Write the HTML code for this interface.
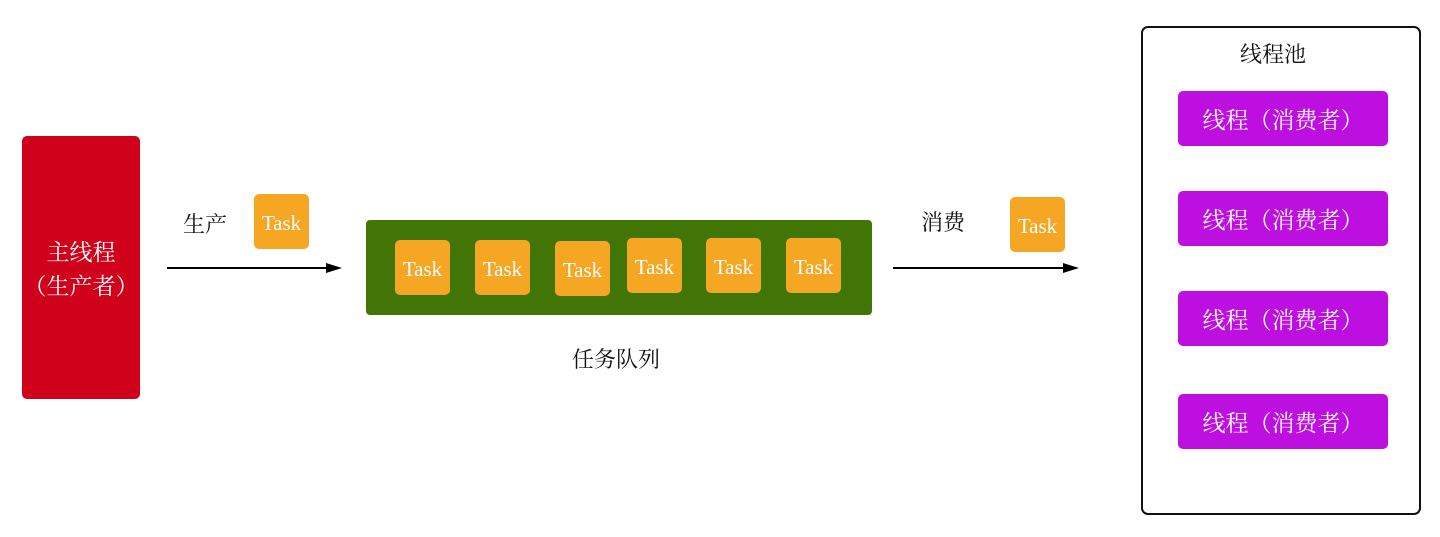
<!DOCTYPE html>
<html><head><meta charset="utf-8"><style>
body{margin:0;width:1440px;height:537px;background:#fff;position:relative;overflow:hidden;font-family:"Liberation Serif","Noto Serif CJK SC",serif}
div{position:absolute;box-sizing:border-box}
.t{background:#F5A623;border-radius:5px;width:55px;height:55px;color:#fff;font-family:"Liberation Serif",serif;font-size:21px;display:flex;align-items:center;justify-content:center;padding-top:4px}
.p{background:#BD10E0;border-radius:5px;left:1178px;width:210px;height:55px;color:#fff;font-size:23px;display:flex;align-items:center;justify-content:center;font-family:"Noto Serif CJK SC",serif}
.l{font-size:22px;color:#111;font-family:"Noto Serif CJK SC",serif;white-space:nowrap}
</style></head><body>
<div style="left:22px;top:136px;width:118px;height:263px;background:#D0021B;border-radius:5px;color:#fff;font-size:23px;font-family:'Noto Serif CJK SC',serif;display:flex;flex-direction:column;align-items:center;justify-content:center;line-height:34px"><span>主线程</span><span>（生产者）</span></div>
<div class="l" style="left:183px;top:208px">生产</div>
<div class="t" style="left:254px;top:194px">Task</div>
<svg style="position:absolute;left:0;top:0" width="1440" height="537">
<line x1="167" y1="268" x2="330" y2="268" stroke="#000" stroke-width="2"/>
<polygon points="342,268 326,263 326,273" fill="#000"/>
<line x1="893" y1="268" x2="1066" y2="268" stroke="#000" stroke-width="2"/>
<polygon points="1079,268 1063,263 1063,273" fill="#000"/>
</svg>
<div style="left:366px;top:220px;width:506px;height:95px;background:#417505;border-radius:4px"></div>
<div class="t" style="left:395px;top:240px">Task</div>
<div class="t" style="left:475px;top:240px">Task</div>
<div class="t" style="left:555px;top:241px">Task</div>
<div class="t" style="left:627px;top:238px">Task</div>
<div class="t" style="left:706px;top:238px">Task</div>
<div class="t" style="left:786px;top:238px">Task</div>
<div class="l" style="left:572px;top:343px">任务队列</div>
<div class="l" style="left:921px;top:206px">消费</div>
<div class="t" style="left:1010px;top:197px">Task</div>
<div style="left:1141px;top:26px;width:280px;height:489px;border:2px solid #111;border-radius:7px"></div>
<div class="l" style="left:1240px;top:38px">线程池</div>
<div class="p" style="top:91px">线程（消费者）</div>
<div class="p" style="top:191px">线程（消费者）</div>
<div class="p" style="top:291px">线程（消费者）</div>
<div class="p" style="top:394px">线程（消费者）</div>
</body></html>
